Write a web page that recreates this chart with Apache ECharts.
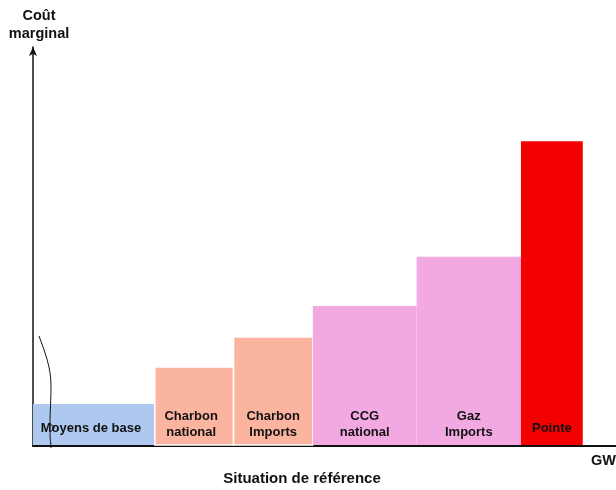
<!DOCTYPE html>
<html>
<head>
<meta charset="utf-8">
<script src="https://cdn.jsdelivr.net/npm/echarts@6/dist/echarts.min.js"></script>
<style>
html,body{margin:0;padding:0;background:#fff;}
#chart{width:616px;height:490px;}
</style>
</head>
<body>
<div id="chart"></div>
<script>
// Data (GW widths and marginal cost heights, arbitrary units)
var categories = ['Moyens de base', 'Charbon\nnational', 'Charbon\nImports', 'CCG\nnational', 'Gaz\nImports', 'Pointe'];
var capacities = [20.9, 13.5, 13.6, 17.8, 17.9, 10.6];
var costs = [10.5, 19.8, 27.3, 35.1, 47.4, 76.4];

var colors = ['#aec8f0', '#fbb49f', '#fbb49f', '#f2a9e2', '#f2a9e2', '#f30000'];
var outlined = [false, true, true, false, false, false];

var data = [];
var cum = 0;
for (var i = 0; i < categories.length; i++) {
  data.push([cum, cum + capacities[i], costs[i], i]);
  cum += capacities[i];
}

var chart = echarts.init(document.getElementById('chart'), null, {renderer: 'canvas'});
var font = '"Liberation Sans", Arial, sans-serif';

function bz(x1, y1, c1x, c1y, c2x, c2y, x2, y2) {
  return {type: 'bezierCurve', silent: true, z: 100,
    shape: {x1: x1, y1: y1, cpx1: c1x, cpy1: c1y, cpx2: c2x, cpy2: c2y, x2: x2, y2: y2},
    style: {stroke: '#111', lineWidth: 1, fill: null}};
}

chart.setOption({
  animation: false,
  grid: {left: 33, right: 0, top: 47, bottom: 44, containLabel: false},
  xAxis: {
    type: 'value', min: 0, max: 100,
    axisLine: {show: true, lineStyle: {color: '#111', width: 2}},
    axisTick: {show: false}, axisLabel: {show: false}, splitLine: {show: false}
  },
  yAxis: {
    type: 'value', min: 0, max: 100,
    axisLine: {show: true, symbol: ['none', 'arrow'], symbolSize: [6, 9], symbolOffset: [0, 0],
      lineStyle: {color: '#111', width: 1.5}},
    axisTick: {show: false}, axisLabel: {show: false}, splitLine: {show: false}
  },
  series: [{
    type: 'custom',
    data: data,
    encode: {x: [0, 1], y: 2},
    renderItem: function (params, api) {
      var idx = api.value(3);
      var p0 = api.coord([api.value(0), 0]);
      var p1 = api.coord([api.value(1), api.value(2)]);
      var x = p0[0], w = p1[0] - p0[0], y = p1[1], h = p0[1] - p1[1];
      var label = categories[idx];
      var twoLines = label.indexOf('\n') >= 0;
      return {
        type: 'group',
        children: [{
          type: 'rect',
          shape: {x: x, y: y, width: w, height: h - 1},
          style: {fill: colors[idx], stroke: outlined[idx] ? '#fff' : null, lineWidth: outlined[idx] ? 1.5 : 0}
        }, {
          type: 'text',
          style: {
            text: label, x: x + w / 2 - (idx < 2 ? 3 : 0), y: p0[1] - (twoLines ? 22 : 18),
            align: 'center', verticalAlign: 'middle',
            font: 'bold 13px ' + font, fill: '#111', lineHeight: 16
          }
        }]
      };
    }
  }],
  graphic: [
    {type: 'text', style: {text: 'Coût\nmarginal', x: 39, y: 7, align: 'center', font: 'bold 14.5px ' + font, fill: '#111', lineHeight: 18}},
    {type: 'text', style: {text: 'GW', x: 616, y: 461, align: 'right', verticalAlign: 'middle', font: 'bold 14.5px ' + font, fill: '#111'}},
    {type: 'text', style: {text: 'Situation de référence', x: 302, y: 479, align: 'center', verticalAlign: 'middle', font: 'bold 15px ' + font, fill: '#111'}},
    bz(39, 336, 45, 352, 51, 368, 51, 385),
    bz(51, 385, 51, 400, 50, 412, 50, 423),
    bz(50, 423, 50, 426, 55, 425, 54, 428),
    bz(54, 428, 53, 431, 50, 430, 50, 434),
    bz(50, 434, 50, 440, 51, 444, 51, 448)
  ]
});
</script>
</body>
</html>
